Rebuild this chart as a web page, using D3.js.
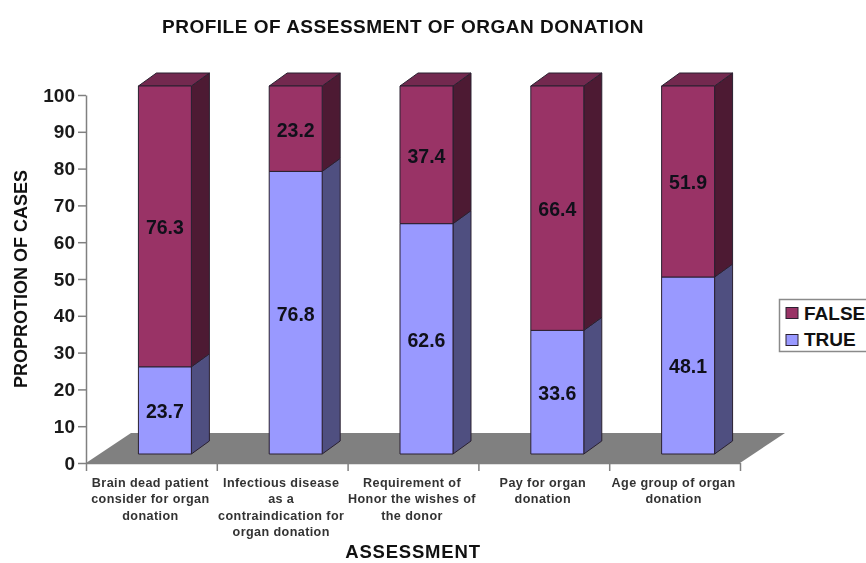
<!DOCTYPE html>
<html>
<head>
<meta charset="utf-8">
<script src="https://cdn.jsdelivr.net/npm/d3@7"></script>
<style>
  html, body { margin: 0; padding: 0; background: #fff; overflow: hidden; }
  svg { filter: blur(0.45px); }
  text { font-family: "Liberation Sans", Arial, sans-serif; font-weight: bold; }
</style>
</head>
<body>
<div id="chart"></div>
<script>
// Data
const categories = [
  ["Brain dead patient", "consider for organ", "donation"],
  ["Infectious disease", "as a", "contraindication for", "organ donation"],
  ["Requirement of", "Honor the wishes of", "the donor"],
  ["Pay for organ", "donation"],
  ["Age group of organ", "donation"]
];
const trueValues = [23.7, 76.8, 62.6, 33.6, 48.1];
const falseValues = [76.3, 23.2, 37.4, 66.4, 51.9];
const yTicks = d3.range(0, 101, 10);

const svg = d3.select("#chart").append("svg")
  .attr("width", 866)
  .attr("height", 563);

const left = 86, right = 740, floorY = 463, topY = 95;
const wall = { dx: 45, dy: -30 };   // depth of the floor
const shift = { dx: 13.5, dy: -9 }; // where the bar front sits on the floor
const depth = { dx: 18, dy: -13 };  // depth of a bar

const x = d3.scaleBand()
  .domain(d3.range(categories.length))
  .range([left, right])
  .paddingInner(0.595)
  .paddingOuter(0.2975);
const y = d3.scaleLinear().domain([0, 100]).range([floorY, topY]);
const tickX = d3.scaleLinear().domain([0, categories.length]).range([left, right]);

// Floor
svg.append("polygon")
  .attr("points", [[left, floorY], [left + wall.dx, floorY + wall.dy],
    [right + wall.dx, floorY + wall.dy], [right, floorY]].join(" "))
  .attr("fill", "#808080");

// Axes
const yAxis = svg.append("g")
  .attr("transform", "translate(" + left + ",0)")
  .call(d3.axisLeft(y).tickValues(yTicks).tickSize(8).tickPadding(3).tickSizeOuter(0));
yAxis.selectAll("text").style("font-size", "19px").attr("fill", "#1a1a1a");
yAxis.selectAll("line,path").attr("stroke", "#808080").attr("stroke-width", 1.5);

const xAxis = svg.append("g")
  .attr("transform", "translate(0," + floorY + ")")
  .call(d3.axisBottom(tickX).ticks(categories.length).tickSize(8).tickSizeOuter(0).tickFormat(""));
xAxis.selectAll("line,path").attr("stroke", "#808080").attr("stroke-width", 1.5);

// Bars, stacked from the bottom
const series = [
  { name: "TRUE", values: trueValues, front: "#9999ff", side: "#4f4f80", top: "#7a7ac0" },
  { name: "FALSE", values: falseValues, front: "#993366", side: "#4d1a33", top: "#73294f" }
];

function barY(v) { return y(v) + shift.dy; }

categories.forEach(function(c, i) {
  const bx = x(i) + shift.dx;
  const w = x.bandwidth();
  let base = 0;
  series.forEach(function(s) {
    const v = s.values[i];
    const y0 = barY(base), y1 = barY(base + v);
    const g = svg.append("g")
      .attr("stroke", "#2a2030")
      .attr("stroke-width", 1)
      .attr("stroke-linejoin", "round");
    // side face
    g.append("polygon")
      .attr("points", [[bx + w, y0], [bx + w + depth.dx, y0 + depth.dy],
        [bx + w + depth.dx, y1 + depth.dy], [bx + w, y1]].join(" "))
      .attr("fill", s.side);
    // top face, only the last segment shows it
    if (s.name === "FALSE") {
      g.append("polygon")
        .attr("points", [[bx, y1], [bx + depth.dx, y1 + depth.dy],
          [bx + w + depth.dx, y1 + depth.dy], [bx + w, y1]].join(" "))
        .attr("fill", s.top);
    }
    // front face
    g.append("rect")
      .attr("x", bx)
      .attr("y", y1)
      .attr("width", w)
      .attr("height", y0 - y1)
      .attr("fill", s.front);
    // value label
    svg.append("text")
      .attr("x", bx + w / 2)
      .attr("y", (y0 + y1) / 2 + 1)
      .attr("dy", "0.35em")
      .attr("text-anchor", "middle")
      .style("font-size", "19.5px")
      .attr("fill", "#10101a")
      .text(v.toFixed(1));
    base += v;
  });

  // Category label
  const label = svg.append("text")
    .attr("text-anchor", "middle")
    .attr("fill", "#333")
    .style("font-size", "12.6px")
    .style("letter-spacing", "0.4px");
  c.forEach(function(line, j) {
    label.append("tspan")
      .attr("x", tickX(i + 0.5) - 1)
      .attr("y", 487 + j * 16.4)
      .text(line);
  });
});

// Titles
svg.append("text")
  .attr("x", 403).attr("y", 33)
  .attr("text-anchor", "middle")
  .style("font-size", "19px")
  .style("letter-spacing", "0.5px")
  .attr("fill", "#111")
  .text("PROFILE OF ASSESSMENT OF ORGAN DONATION");
svg.append("text")
  .attr("x", 413).attr("y", 558)
  .attr("text-anchor", "middle")
  .style("font-size", "18.5px")
  .style("letter-spacing", "0.8px")
  .attr("fill", "#111")
  .text("ASSESSMENT");
svg.append("text")
  .attr("transform", "translate(27,279) rotate(-90)")
  .attr("text-anchor", "middle")
  .style("font-size", "18px")
  .attr("fill", "#111")
  .text("PROPROTION OF CASES");

// Legend
const legend = svg.append("g");
legend.append("rect")
  .attr("x", 779.5).attr("y", 299.5)
  .attr("width", 100).attr("height", 52)
  .attr("fill", "#fff")
  .attr("stroke", "#8a8a8a")
  .attr("stroke-width", 1.5);
[series[1], series[0]].forEach(function(s, i) {
  legend.append("rect")
    .attr("x", 786).attr("y", 307.5 + i * 27)
    .attr("width", 12).attr("height", 11)
    .attr("fill", s.front)
    .attr("stroke", "#2a2030");
  legend.append("text")
    .attr("x", 804).attr("y", 319.5 + i * 26)
    .style("font-size", "19px")
    .attr("fill", "#111")
    .text(s.name);
});
</script>
</body>
</html>
